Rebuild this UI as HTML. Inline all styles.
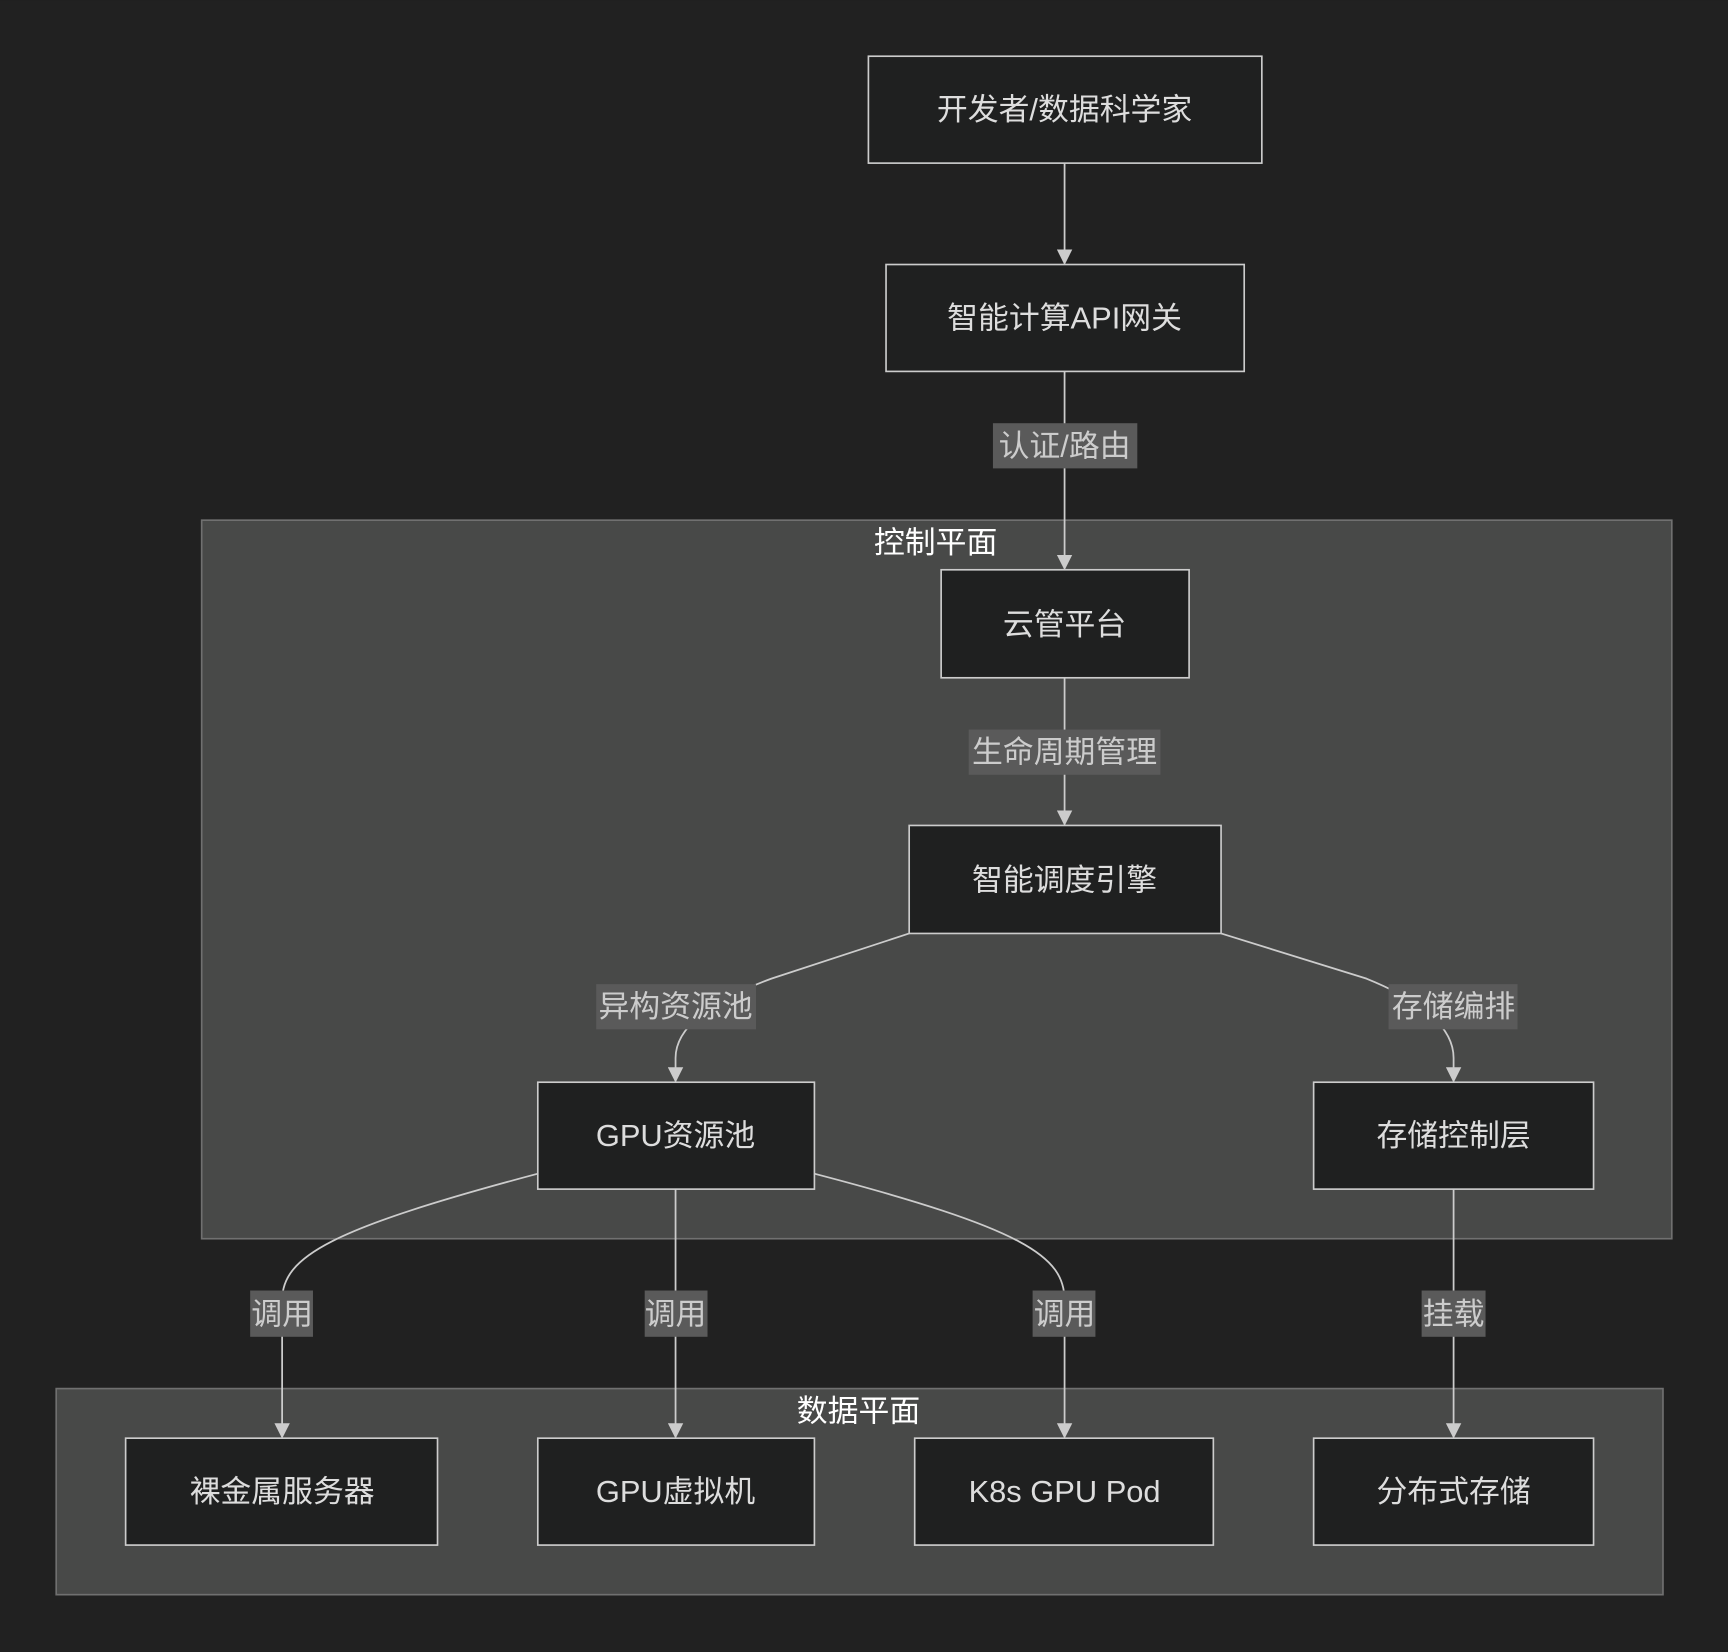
<!DOCTYPE html>
<html><head><meta charset="utf-8"><style>
html,body{margin:0;padding:0;background:#212121;}
svg{display:block;}
text{font-family:"Liberation Sans","Noto Sans CJK SC",sans-serif;}
</style></head><body>
<svg width="1728" height="1652" viewBox="0 0 1568 1499" xmlns="http://www.w3.org/2000/svg">
<defs><marker id="a" viewBox="0 0 10 10" refX="9" refY="5" markerWidth="14" markerHeight="14" markerUnits="userSpaceOnUse" orient="auto"><path d="M0,0L10,5L0,10z" fill="#ccc"/></marker></defs>
<rect width="1568" height="1499" fill="#212121"/>
<rect x="183" y="472" width="1334" height="652" fill="#484948" stroke="#707070" stroke-width="1.5"/>
<rect x="51" y="1260" width="1458" height="187" fill="#484948" stroke="#707070" stroke-width="1.5"/>
<g font-size="28" fill="#fff" text-anchor="middle">
<text x="849" y="502">控制平面</text>
<text x="779" y="1290">数据平面</text>
</g>
<g stroke="#ccc" stroke-width="1.6" fill="none">
<path d="M966,148L966,239" marker-end="url(#a)"/>
<path d="M966,337L966,516" marker-end="url(#a)"/>
<path d="M966,615L966,748" marker-end="url(#a)"/>
<path d="M825,847L700,888Q613,920 613,960L613,981" marker-end="url(#a)"/>
<path d="M1108,847L1240,888Q1319,920 1319,960L1319,981" marker-end="url(#a)"/>
<path d="M488,1065C300,1115 256,1140 256,1180L256,1304" marker-end="url(#a)"/>
<path d="M613,1079L613,1304" marker-end="url(#a)"/>
<path d="M739,1065C930,1115 966,1140 966,1180L966,1304" marker-end="url(#a)"/>
<path d="M1319,1079L1319,1304" marker-end="url(#a)"/>
</g>
<g fill="#1f2020" stroke="#ccc" stroke-width="1.5">
<rect x="788" y="51" width="357" height="97"/>
<rect x="804" y="240" width="325" height="97"/>
<rect x="854" y="517" width="225" height="98"/>
<rect x="825" y="749" width="283" height="98"/>
<rect x="488" y="982" width="251" height="97"/>
<rect x="1192" y="982" width="254" height="97"/>
<rect x="114" y="1305" width="283" height="97"/>
<rect x="488" y="1305" width="251" height="97"/>
<rect x="830" y="1305" width="271" height="97"/>
<rect x="1192" y="1305" width="254" height="97"/>
</g>
<g fill="#5a5a5a">
<rect x="901" y="384" width="131" height="41"/>
<rect x="879" y="662" width="174" height="41"/>
<rect x="541" y="893" width="145" height="41"/>
<rect x="1260" y="893" width="117" height="41"/>
<rect x="227" y="1171" width="57" height="42"/>
<rect x="585" y="1171" width="57" height="42"/>
<rect x="937" y="1171" width="57" height="42"/>
<rect x="1290" y="1171" width="58" height="42"/>
</g>
<g font-size="28" fill="#ccc" text-anchor="middle">
<text x="966" y="414">认证/路由</text>
<text x="966" y="692">生命周期管理</text>
<text x="613" y="923">异构资源池</text>
<text x="1319" y="923">存储编排</text>
<text x="256" y="1202">调用</text>
<text x="613" y="1202">调用</text>
<text x="966" y="1202">调用</text>
<text x="1319" y="1202">挂载</text>
</g>
<g font-size="28" fill="#ddd" text-anchor="middle">
<text x="966" y="109">开发者/数据科学家</text>
<text x="966" y="298">智能计算API网关</text>
<text x="966" y="576">云管平台</text>
<text x="966" y="808">智能调度引擎</text>
<text x="613" y="1040">GPU资源池</text>
<text x="1319" y="1040">存储控制层</text>
<text x="256" y="1363">裸金属服务器</text>
<text x="613" y="1363">GPU虚拟机</text>
<text x="966" y="1363">K8s GPU Pod</text>
<text x="1319" y="1363">分布式存储</text>
</g>
</svg>
</body></html>
